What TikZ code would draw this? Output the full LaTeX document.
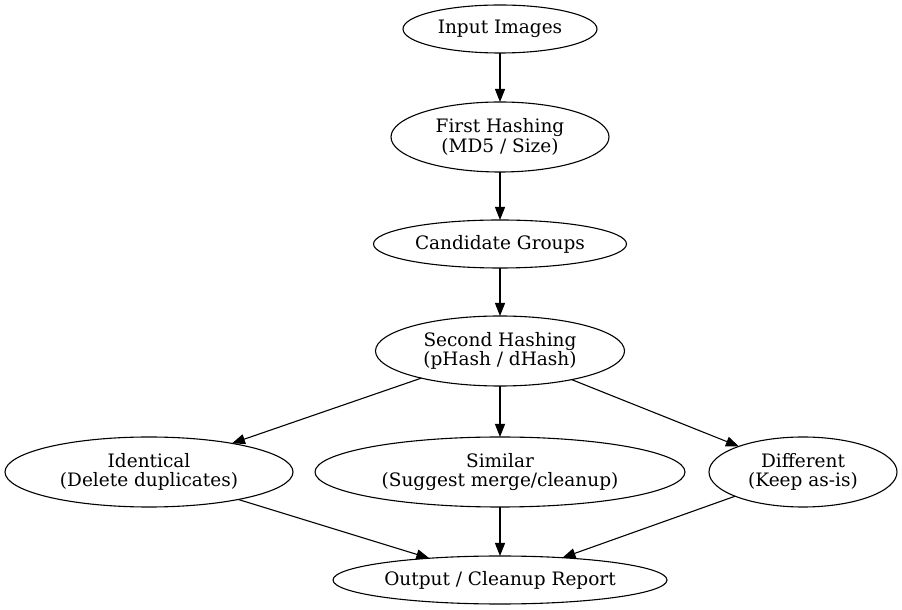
\documentclass[tikz,border=0pt]{standalone}
\usepackage{fontspec}
\setmainfont{DejaVu Serif}
\usetikzlibrary{arrows.meta,shapes.geometric}

\begin{document}
\begin{tikzpicture}[
	x=1pt, y=1pt,
	mynode/.style = {
		draw, ellipse, align=center, line width=1.1pt,
		font=\fontsize{18.5}{19.5}\selectfont,
		inner sep=0pt, outer sep=0pt},
	arrow/.style = {line width=1.1pt,-{Triangle[length=13pt,width=10pt]}}
]
\useasboundingbox (0,0) rectangle (902,610);

\node (n1)  [mynode, minimum width=194, minimum height=48] at (500,581) {Input Images};
\node (n2)  [mynode, minimum width=218, minimum height=70] at (500,473) {First Hashing\\
                                                                         (MD5 / Size)};
\node (n3)  [mynode, minimum width=253, minimum height=48] at (500,366) {Candidate Groups};
\node (n4)  [mynode, minimum width=249, minimum height=70] at (500,259) {Second Hashing\\
                                                                         (pHash / dHash)};

\node (n5a) [mynode, minimum width=288, minimum height=70] at (149,138) {Identical\\
                                                                         (Delete duplicates)};
\node (n5b) [mynode, minimum width=370, minimum height=70] at (500,138) {Similar\\
                                                                         (Suggest merge/cleanup)};
\node (n5c) [mynode, minimum width=188, minimum height=70] at (803,138) {Different\\
                                                                         (Keep as-is)};

\node (n6)  [mynode, minimum width=334, minimum height=48] at (500,30)  {Output / Cleanup Report};

\draw[arrow] (n1) -- (n2);
\draw[arrow] (n2) -- (n3);
\draw[arrow] (n3) -- (n4);
\draw[arrow] (n4) -- (n5a);
\draw[arrow] (n4) -- (n5b);
\draw[arrow] (n4) -- (n5c);
\draw[arrow] (n5a) -- (n6);
\draw[arrow] (n5b) -- (n6);
\draw[arrow] (n5c) -- (n6);
\end{tikzpicture}
\end{document}
